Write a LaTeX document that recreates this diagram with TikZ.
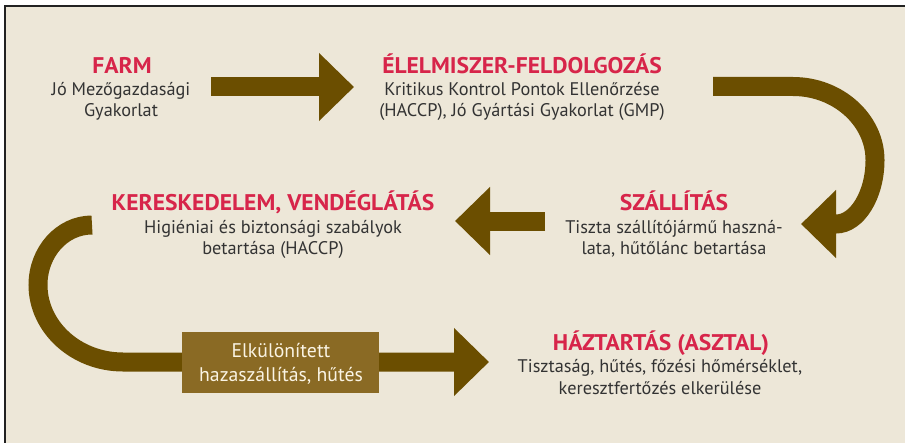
\documentclass[tikz,border=0pt]{standalone}
\usepackage{fontspec}
\setmainfont{PT Sans}
\newfontfamily\titlefont{PT Sans}[FakeStretch=1.04]
\usetikzlibrary{arrows.meta}
\definecolor{bgc}{RGB}{237,231,216}
\definecolor{arrowc}{RGB}{107,78,0}
\definecolor{boxc}{RGB}{138,106,36}
\definecolor{titlec}{RGB}{215,37,74}
\definecolor{bodyc}{RGB}{51,51,51}
\definecolor{boxtextc}{RGB}{250,244,228}
\definecolor{framec}{RGB}{34,34,34}
\tikzset{
  flow/.style={draw=arrowc, line width=14.25pt, -{Triangle[length=26.25pt,width=49.5pt]}},
  ttl/.style={anchor=base, inner sep=0pt, text=titlec, font=\titlefont\bfseries\fontsize{17}{20}\selectfont},
  bdy/.style={anchor=base, inner sep=0pt, text=bodyc, font=\fontsize{13.7}{16}\selectfont},
  boxtxt/.style={anchor=base, inner sep=0pt, text=boxtextc, font=\fontsize{14.8}{17}\selectfont},
  stagebox/.style={fill=boxc, inner sep=0pt, minimum width=147.75pt, minimum height=45.75pt}
}
\begin{document}
\begin{tikzpicture}[x=0.75pt,y=-0.75pt]
\useasboundingbox (0,0) rectangle (905,442);
\clip (0,0) rectangle (905,442);
\fill[white] (0,0) rectangle (905,442);
\fill[bgc] (5,6) rectangle (915,450);
\draw[framec, line width=1.5pt] (5,455) -- (5,6) -- (915,6);

% arrow coordinates
\coordinate (a1s) at (211,87);
\coordinate (a1e) at (354,87);
\coordinate (a2s) at (713,86.5);
\coordinate (a2m) at (793,86.5);
\coordinate (a2e) at (801,224);
\coordinate (a3s) at (545,221);
\coordinate (a3e) at (455,221);
\coordinate (a4s) at (92,225);
\coordinate (a4e) at (489,362);

% arrows
\draw[flow] (a1s) -- (a1e);
\draw[flow] (a2s) -- (a2m) .. controls (838,86.5) and (875,120) .. (875,160)
  .. controls (875,195) and (857,224) .. (836,224) -- (a2e);
\draw[flow] (a3s) -- (a3e);
\draw[flow] (a4s) .. controls (62,225) and (38,252) .. (38,285)
  .. controls (38,327) and (76,362) .. (123,362) -- (a4e);

% box on the last arrow
\node[stagebox] (box) at (280.5,362.5) {};
\node[boxtxt] (box1) at (281,357) {Elkülönített};
\node[boxtxt] (box2) at (281,381) {hazaszállítás, hűtés};

% FARM
\node[ttl] (farmT) at (122,73.5) {FARM};
\node[bdy] (farm1) at (121,96) {Jó Mezőgazdasági};
\node[bdy] (farm2) at (121,117) {Gyakorlat};

% ÉLELMISZER-FELDOLGOZÁS
\node[ttl] (procT) at (522,73.5) {ÉLELMISZER-FELDOLGOZÁS};
\node[bdy] (proc1) at (522,96) {Kritikus Kontrol Pontok Ellenőrzése};
\node[bdy] (proc2) at (522,117) {(HACCP), Jó Gyártási Gyakorlat (GMP)};

% SZÁLLÍTÁS
\node[ttl] (transT) at (674,210.5) {SZÁLLÍTÁS};
\node[bdy] (trans1) at (674,233) {Tiszta szállítójármű haszná-};
\node[bdy] (trans2) at (674,254) {lata, hűtőlánc betartása};

% KERESKEDELEM, VENDÉGLÁTÁS
\node[ttl] (retT) at (273,210.5) {KERESKEDELEM, VENDÉGLÁTÁS};
\node[bdy] (ret1) at (273,233) {Higiéniai és biztonsági szabályok};
\node[bdy] (ret2) at (273,254) {betartása (HACCP)};

% HÁZTARTÁS (ASZTAL)
\node[ttl] (homeT) at (661,350) {HÁZTARTÁS (ASZTAL)};
\node[bdy] (home1) at (660,372) {Tisztaság, hűtés, főzési hőmérséklet,};
\node[bdy] (home2) at (660,394) {keresztfertőzés elkerülése};
\end{tikzpicture}
\end{document}
